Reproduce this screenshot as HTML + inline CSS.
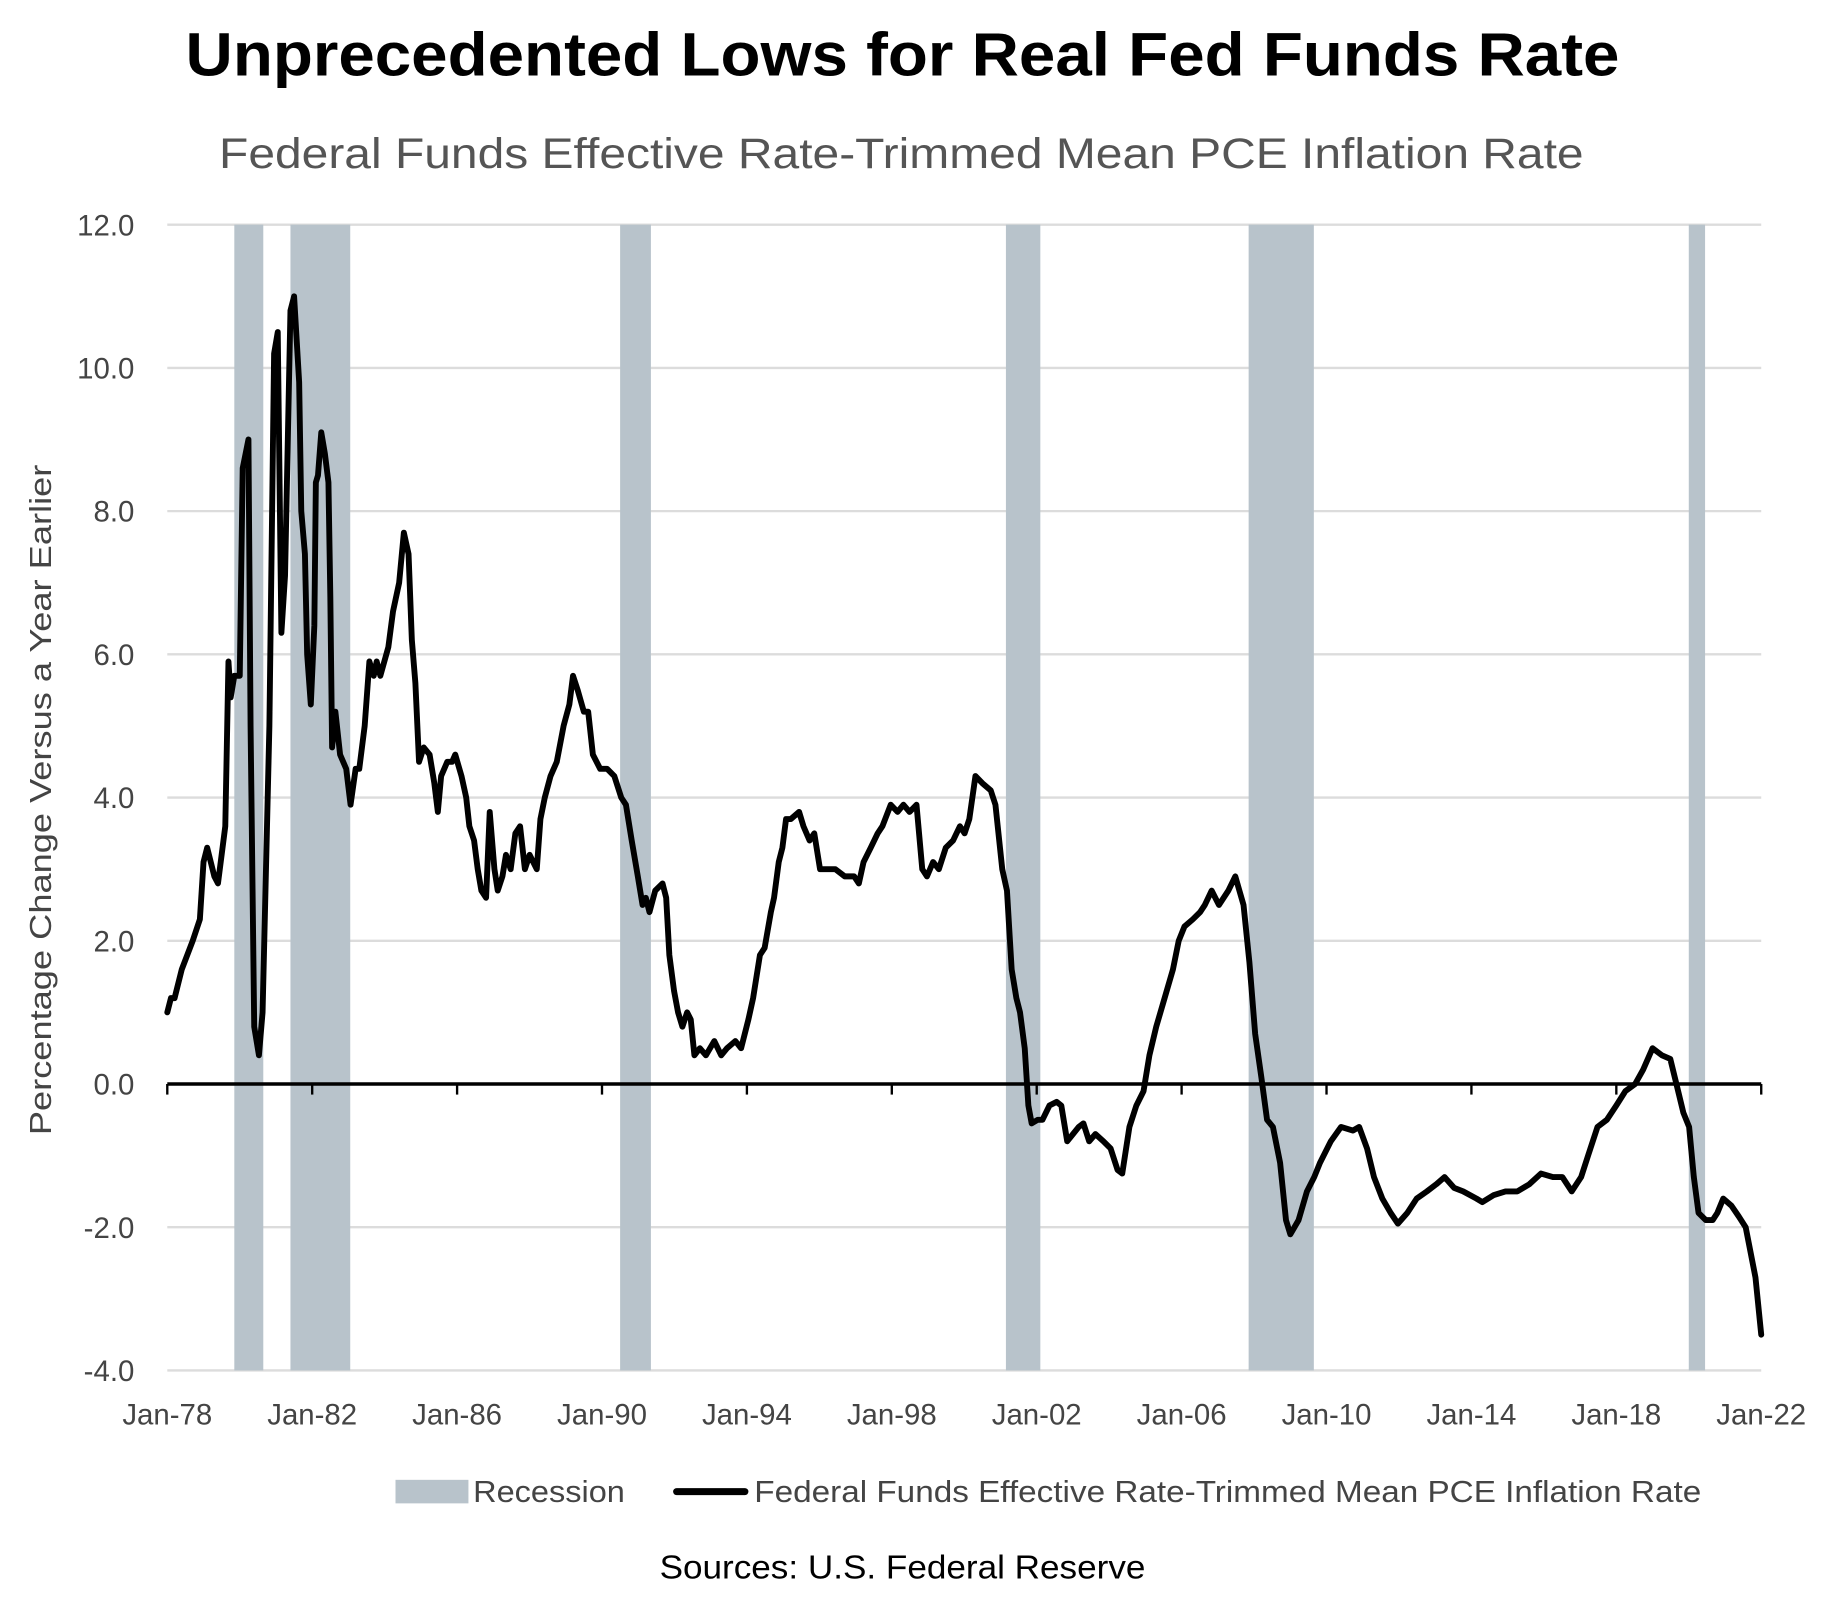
<!DOCTYPE html>
<html><head><meta charset="utf-8"><style>
html,body{margin:0;padding:0;background:#fff}
svg{display:block;font-family:"Liberation Sans",sans-serif}
</style></head><body>
<svg id="chart" width="1845" height="1601" viewBox="0 0 1568 1361" xmlns="http://www.w3.org/2000/svg">
<text x="767" y="64" text-anchor="middle" font-size="52" font-weight="bold" textLength="1219" lengthAdjust="spacingAndGlyphs">Unprecedented Lows for Real Fed Funds Rate</text>
<text x="766" y="143" text-anchor="middle" font-size="36" fill="#555" textLength="1160" lengthAdjust="spacingAndGlyphs">Federal Funds Effective Rate-Trimmed Mean PCE Inflation Rate</text>
<g id="grid"></g>
<g id="rec"></g>
<g id="axes"></g>
<g id="line"></g>
<text transform="translate(43,680) rotate(-90)" text-anchor="middle" font-size="26" fill="#444" textLength="570" lengthAdjust="spacingAndGlyphs">Percentage Change Versus a Year Earlier</text>
<g>
<rect x="336" y="1258" width="62" height="20" fill="#b8c3cb"/>
<text x="402" y="1277" font-size="26" fill="#444" textLength="129" lengthAdjust="spacingAndGlyphs">Recession</text>
<line x1="575" y1="1268" x2="633" y2="1268" stroke="#000" stroke-width="6" stroke-linecap="round"/>
<text x="641" y="1277" font-size="26" fill="#444" textLength="805" lengthAdjust="spacingAndGlyphs">Federal Funds Effective Rate-Trimmed Mean PCE Inflation Rate</text>
</g>
<text x="767" y="1342" text-anchor="middle" font-size="28" fill="#000" textLength="413" lengthAdjust="spacingAndGlyphs">Sources: U.S. Federal Reserve</text>
</svg>
<script>
const yTicks=[12,10,8,6,4,2,0,-2,-4];
const yTickLabels=["12.0","10.0","8.0","6.0","4.0","2.0","0.0","-2.0","-4.0"];
const xTickYears=[1978,1982,1986,1990,1994,1998,2002,2006,2010,2014,2018,2022];
const xTickLabels=["Jan-78","Jan-82","Jan-86","Jan-90","Jan-94","Jan-98","Jan-02","Jan-06","Jan-10","Jan-14","Jan-18","Jan-22"];
const recStart=[1979.85,1981.4,1990.5,2001.15,2007.85,2020.0];
const recEnd=[1980.65,1983.05,1991.35,2002.1,2009.65,2020.45];
const dates=[1978.0,1978.1,1978.2,1978.4,1978.7,1978.9,1979.0,1979.1,1979.3,1979.4,1979.6,1979.69,1979.75,1979.85,1980.0,1980.08,1980.24,1980.3,1980.4,1980.53,1980.63,1980.82,1980.95,1981.05,1981.15,1981.25,1981.4,1981.5,1981.64,1981.7,1981.8,1981.86,1981.96,1982.06,1982.1,1982.16,1982.25,1982.35,1982.45,1982.5,1982.55,1982.64,1982.77,1982.94,1983.06,1983.2,1983.3,1983.45,1983.58,1983.7,1983.78,1983.88,1984.1,1984.23,1984.4,1984.53,1984.66,1984.75,1984.85,1984.95,1985.08,1985.24,1985.37,1985.47,1985.56,1985.73,1985.86,1985.95,1986.12,1986.25,1986.34,1986.47,1986.57,1986.67,1986.8,1986.9,1987.03,1987.12,1987.25,1987.35,1987.48,1987.61,1987.74,1987.87,1988.0,1988.2,1988.3,1988.42,1988.58,1988.75,1988.94,1989.1,1989.2,1989.33,1989.5,1989.62,1989.75,1989.95,1990.14,1990.34,1990.53,1990.66,1990.82,1990.99,1991.12,1991.21,1991.31,1991.47,1991.67,1991.77,1991.86,1991.99,1992.1,1992.22,1992.35,1992.45,1992.55,1992.7,1992.87,1993.1,1993.29,1993.45,1993.68,1993.84,1994.04,1994.17,1994.36,1994.49,1994.66,1994.75,1994.88,1994.98,1995.08,1995.21,1995.44,1995.56,1995.73,1995.86,1996.02,1996.21,1996.44,1996.7,1996.96,1997.09,1997.22,1997.42,1997.61,1997.74,1997.97,1998.16,1998.32,1998.49,1998.68,1998.84,1998.97,1999.14,1999.3,1999.49,1999.69,1999.88,2000.01,2000.14,2000.31,2000.5,2000.73,2000.86,2001.05,2001.18,2001.31,2001.44,2001.54,2001.67,2001.77,2001.86,2002.03,2002.16,2002.35,2002.55,2002.68,2002.84,2003.0,2003.16,2003.29,2003.45,2003.62,2003.84,2004.04,2004.23,2004.36,2004.56,2004.75,2004.95,2005.11,2005.3,2005.53,2005.76,2005.92,2006.08,2006.31,2006.51,2006.64,2006.83,2007.03,2007.29,2007.48,2007.71,2007.87,2008.03,2008.2,2008.36,2008.52,2008.72,2008.88,2009.0,2009.23,2009.46,2009.66,2009.82,2010.12,2010.4,2010.73,2010.9,2011.12,2011.31,2011.54,2011.77,2011.97,2012.23,2012.49,2012.77,2013.03,2013.26,2013.52,2013.77,2014.14,2014.3,2014.62,2014.94,2015.27,2015.6,2015.92,2016.25,2016.51,2016.77,2017.03,2017.22,2017.48,2017.74,2018.0,2018.25,2018.52,2018.74,2019.0,2019.26,2019.49,2019.66,2019.85,2020.01,2020.14,2020.27,2020.47,2020.66,2020.79,2020.95,2021.18,2021.38,2021.57,2021.84,2022.0];
const values=[1.0,1.2,1.2,1.6,2.0,2.3,3.1,3.3,2.9,2.8,3.6,5.9,5.4,5.7,5.7,8.6,9.0,5.0,0.8,0.4,1.0,5.0,10.2,10.5,6.3,7.1,10.8,11.0,9.8,8.0,7.4,6.0,5.3,6.4,8.4,8.5,9.1,8.8,8.4,6.8,4.7,5.2,4.6,4.4,3.9,4.4,4.4,5.0,5.9,5.7,5.9,5.7,6.1,6.6,7.0,7.7,7.4,6.2,5.6,4.5,4.7,4.6,4.2,3.8,4.3,4.5,4.5,4.6,4.3,4.0,3.6,3.4,3.0,2.7,2.6,3.8,3.0,2.7,2.9,3.2,3.0,3.5,3.6,3.0,3.2,3.0,3.7,4.0,4.3,4.5,5.0,5.3,5.7,5.5,5.2,5.2,4.6,4.4,4.4,4.3,4.0,3.9,3.4,2.9,2.5,2.6,2.4,2.7,2.8,2.6,1.8,1.3,1.0,0.8,1.0,0.9,0.4,0.5,0.4,0.6,0.4,0.5,0.6,0.5,0.9,1.2,1.8,1.9,2.4,2.6,3.1,3.3,3.7,3.7,3.8,3.6,3.4,3.5,3.0,3.0,3.0,2.9,2.9,2.8,3.1,3.3,3.5,3.6,3.9,3.8,3.9,3.8,3.9,3.0,2.9,3.1,3.0,3.3,3.4,3.6,3.5,3.7,4.3,4.2,4.1,3.9,3.0,2.7,1.6,1.2,1.0,0.5,-0.3,-0.55,-0.5,-0.5,-0.3,-0.25,-0.3,-0.8,-0.7,-0.6,-0.55,-0.8,-0.7,-0.8,-0.9,-1.2,-1.25,-0.6,-0.3,-0.1,0.4,0.8,1.2,1.6,2.0,2.2,2.3,2.4,2.5,2.7,2.5,2.7,2.9,2.5,1.7,0.7,0.1,-0.5,-0.6,-1.1,-1.9,-2.1,-1.9,-1.5,-1.3,-1.1,-0.8,-0.6,-0.65,-0.6,-0.9,-1.3,-1.6,-1.8,-1.95,-1.8,-1.6,-1.5,-1.4,-1.3,-1.45,-1.5,-1.6,-1.65,-1.55,-1.5,-1.5,-1.4,-1.25,-1.3,-1.3,-1.5,-1.3,-1.0,-0.6,-0.5,-0.3,-0.1,0.0,0.2,0.5,0.4,0.35,0.0,-0.4,-0.6,-1.3,-1.8,-1.9,-1.9,-1.8,-1.6,-1.7,-1.85,-2.0,-2.7,-3.5];

const NS='http://www.w3.org/2000/svg';
const X0=142,X1=1497,Y12=191,Ym4=1165;
function xs(t){return X0+(t-1978)/(2022-1978)*(X1-X0);}
function ys(v){return Y12+(12-v)/16*(Ym4-Y12);}
function mk(tag,attrs,parent){const e=document.createElementNS(NS,tag);for(const k in attrs)e.setAttribute(k,attrs[k]);parent.appendChild(e);return e;}
const grid=document.getElementById('grid'),rec=document.getElementById('rec'),axes=document.getElementById('axes'),lineG=document.getElementById('line');
yTicks.forEach((v,i)=>{
  if(v!==0){const l=mk('line',{x1:X0,x2:X1,y1:ys(v),y2:ys(v),stroke:'#dcdcdc','stroke-width':2},grid);
  
  }
  const t=mk('text',{x:114,y:ys(v)+9,'text-anchor':'end','font-size':25,fill:'#444'},axes);
  
  
  t.textContent=yTickLabels[i];
});
recStart.forEach((s,i)=>{
  const r=mk('rect',{x:xs(s),y:Y12,width:xs(recEnd[i])-xs(s),height:Ym4-Y12,fill:'#b8c3cb'},rec);
  
  
});
const zl=mk('line',{x1:X0,x2:X1,y1:ys(0),y2:ys(0),stroke:'#000','stroke-width':3},axes);


xTickYears.forEach((yr,i)=>{
  const tk=mk('line',{x1:xs(yr),x2:xs(yr),y1:ys(0),y2:ys(0)+9,stroke:'#000','stroke-width':2},axes);
  
  
  const t=mk('text',{x:xs(yr),y:1211,'text-anchor':'middle','font-size':25,fill:'#444'},axes);
  
  
  t.textContent=xTickLabels[i];
});
const d=dates.map((t,i)=>(i?'L':'M')+xs(t).toFixed(1)+' '+ys(values[i]).toFixed(1)).join(' ');
const p=mk('path',{d:d,fill:'none',stroke:'#000','stroke-width':5,'stroke-linejoin':'round','stroke-linecap':'round'},lineG);


</script>
</body></html>
